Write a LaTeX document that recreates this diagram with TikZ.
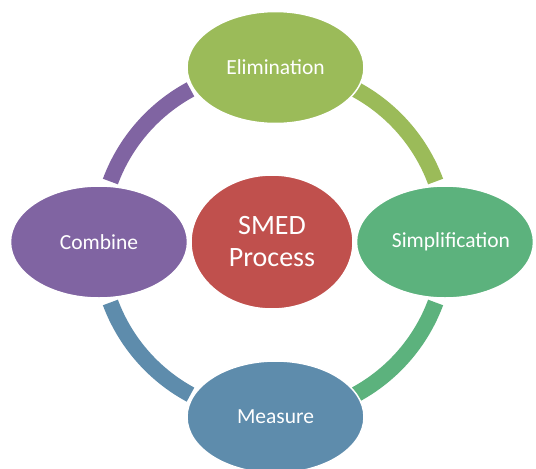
\documentclass[tikz,border=0pt]{standalone}
\usepackage{fontspec}
\setmainfont{Carlito}
\usetikzlibrary{shapes.geometric}
\definecolor{cRed}{RGB}{192,80,77}
\definecolor{cElim}{RGB}{155,187,89}
\definecolor{cSimp}{RGB}{92,178,125}
\definecolor{cMeas}{RGB}{94,140,172}
\definecolor{cComb}{RGB}{128,100,162}
\tikzset{
  bubble/.style={ellipse, fill=#1, draw=white, line width=1.5pt, inner sep=0pt,
    minimum width=177pt, minimum height=112pt, text=white,
    font=\fontsize{21.5pt}{26pt}\selectfont},
  hub/.style={ellipse, fill=cRed, draw=white, line width=1.5pt, inner sep=0pt,
    minimum width=162pt, minimum height=134pt, text=white, align=center,
    font=\fontsize{28pt}{32pt}\selectfont},
}
\newcommand{\ringseg}[3]{%
  \fill[#1] ([shift={(#2:181.5pt)}]c) arc[start angle=#2, end angle=#3, radius=181.5pt]
    -- ([shift={(#3:165.5pt)}]c) arc[start angle=#3, end angle=#2, radius=165.5pt] -- cycle;}
\begin{document}
\begin{tikzpicture}[x=1pt,y=1pt]
\useasboundingbox[fill=white] (0,0) rectangle (536,-469);
\clip (0,0) rectangle (536,-469);
\coordinate (c) at (273,-242);
\ringseg{cElim}{61.6}{20.4}
\ringseg{cSimp}{-20.4}{-61.6}
\ringseg{cMeas}{-118.4}{-159.6}
\ringseg{cComb}{159.6}{118.4}
\node[hub] (smed) at (272,-242) {SMED\\Process};
\node[bubble=cElim] (elim) at (275.5,-67.5) {Elimination};
\node[bubble=cSimp] (simp) at (445,-242) {\makebox[0pt]{\hspace{12pt}Simplification}};
\node[bubble=cMeas] (meas) at (275.5,-417) {Measure};
\node[bubble=cComb] (comb) at (99,-242) {Combine};
\end{tikzpicture}
\end{document}
